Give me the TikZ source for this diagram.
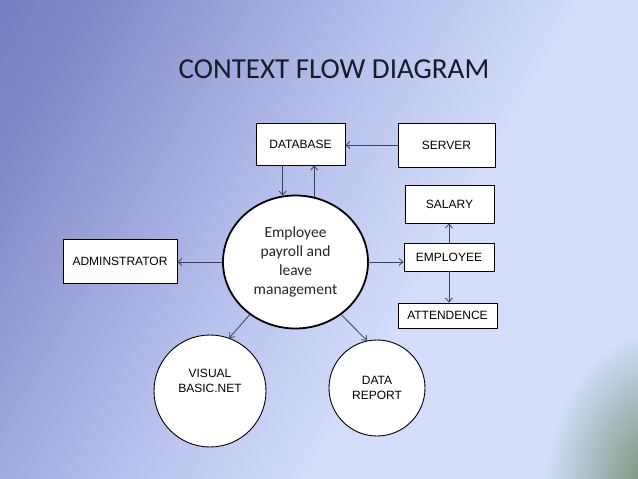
\documentclass[tikz,border=0pt]{standalone}
\usepackage{fontspec}
\setmainfont{Liberation Sans}
\newfontfamily\calib{Carlito}
\usetikzlibrary{arrows.meta,shapes.geometric,fadings}
\definecolor{bg0}{RGB}{100,106,182}
\definecolor{bgA}{RGB}{128,134,198}
\definecolor{bgB}{RGB}{182,192,236}
\definecolor{bgC}{RGB}{212,222,250}
\definecolor{arrc}{RGB}{60,64,85}
\definecolor{greenish}{RGB}{105,135,100}
\definecolor{titlec}{RGB}{26,26,40}
\pgfdeclarehorizontalshading{bgsh}{100bp}{color(0bp)=(bg0); color(22bp)=(bgA); color(45bp)=(bgB); color(60bp)=(bgC); color(100bp)=(bgC)}
\tikzfading[name=softfade, inner color=transparent!0, outer color=transparent!100]
\begin{document}
\begin{tikzpicture}[x=1pt,y=-1pt,
 box/.style={draw=black, line width=0.8pt, fill=white, inner sep=0pt, font=\fontsize{12}{14}\selectfont, align=center},
 circ/.style={circle, draw=black, line width=0.9pt, fill=white, inner sep=0pt, font=\fontsize{12}{15}\selectfont, align=center},
 arr/.style={draw=arrc, line width=0.8pt, -{Straight Barb[length=4pt,width=7pt]}}]
\useasboundingbox (0,0) rectangle (638,479);
\shade[shading=bgsh, shading angle=-30] (0,0) rectangle (638,479);
\begin{scope}
\clip (0,0) rectangle (638,479);
\fill[greenish, path fading=softfade] (665,490) ellipse (120pt and 160pt);
\end{scope}

\node[font=\calib\fontsize{29}{34}\selectfont, text=titlec, inner sep=0pt] (title) at (334,69.5) {CONTEXT FLOW DIAGRAM};

\node[box, minimum width=89pt, minimum height=42pt] (db) at (300.5,144) {DATABASE};
\node[box, minimum width=97pt, minimum height=44pt] (srv) at (446.5,145) {SERVER};
\node[box, minimum width=89pt, minimum height=38pt] (sal) at (449.5,204) {SALARY};
\node[box, minimum width=90pt, minimum height=28pt] (emp) at (449,257) {EMPLOYEE};
\node[box, minimum width=99pt, minimum height=25pt] (att) at (447.5,315.5) {ATTENDENCE};
\node[box, minimum width=114pt, minimum height=44pt] (adm) at (120,261) {ADMINSTRATOR};

\node[ellipse, draw=black, line width=1.8pt, fill=white, minimum width=145pt, minimum height=133pt, inner sep=0pt, align=center, font=\calib\fontsize{15.5}{19}\selectfont, text=black!85] (main) at (295.5,262) {Employee\\payroll and\\leave\\management};

\node[circ, minimum size=112pt] (vb) at (210,391) {};
\node[font=\fontsize{12}{15}\selectfont, align=center, inner sep=0pt] (vbt) at (210,381) {VISUAL\\BASIC.NET};
\node[circ, minimum size=96pt] (dr) at (377,388) {DATA\\REPORT};

\draw[arr] (srv.west) -- (srv.west -| db.east);
\draw[arr] (main.101.7 |- db.south) -- (main.101.7);
\draw[arr] (main.74.8) -- (main.74.8 |- db.south);
\draw[arr] (main.west) -- (main.west -| adm.east);
\draw[arr] (main.east) -- (main.east -| emp.west);
\draw[arr] (emp.north) -- (emp.north |- sal.south);
\draw[arr] (emp.south) -- (emp.south |- att.north);
\draw[arr] (main.229) -- (vb.70);
\draw[arr] (main.311) -- (dr.102);
\end{tikzpicture}
\end{document}
